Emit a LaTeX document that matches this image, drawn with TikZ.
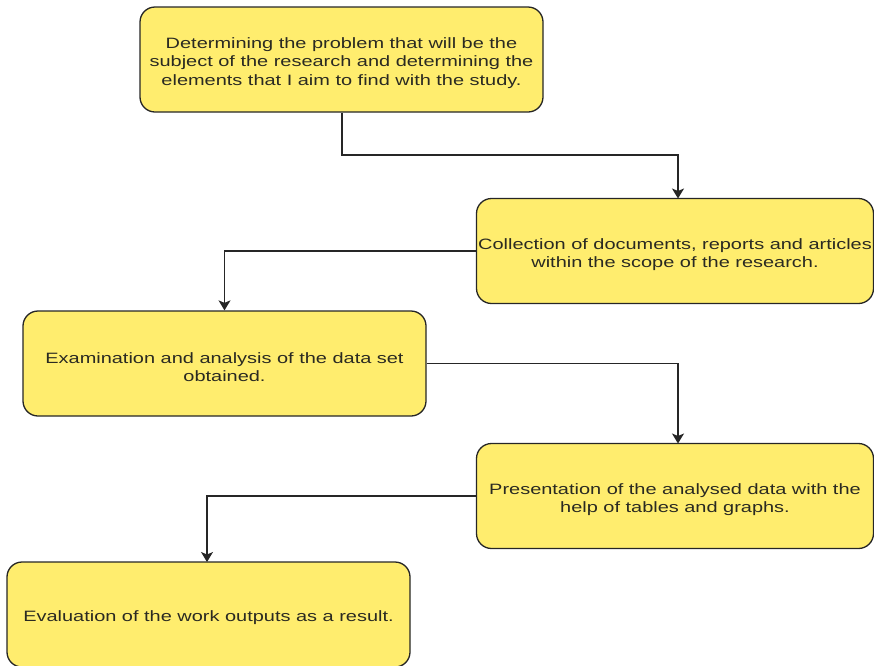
\documentclass[tikz,border=0pt]{standalone}
\usepackage{fontspec}
\setmainfont{Liberation Sans}[FakeStretch=1.33]
\usetikzlibrary{arrows.meta}
\definecolor{boxfill}{HTML}{FFED6E}
\definecolor{boxline}{HTML}{262626}
\definecolor{txt}{HTML}{2A2A22}
\newcommand\topfix{\rule{0pt}{18pt}}
\begin{document}
\begin{tikzpicture}[x=1pt,y=-1pt,
  stepbox/.style={draw=boxline,fill=boxfill,line width=1.3pt,rounded corners=15pt,
    minimum width=#1,minimum height=105pt,inner sep=0pt,align=center,text=txt,
    font=\fontsize{15pt}{18.6pt}\selectfont},
  stepbox/.default=403pt,
  conn/.style={draw=boxline,line width=1.2pt,-{Stealth[length=10pt,width=12pt,inset=2.5pt]}}]
\useasboundingbox (0,0) rectangle (874,665);
\node[stepbox] (b1) at (341.5,59.5) {\topfix Determining the problem that will be the\\subject of the research and determining the\\elements that I aim to find with the study.};
\node[stepbox=397pt] (b2) at (675,251) {\topfix Collection of documents, reports and articles\\within the scope of the research.};
\node[stepbox] (b3) at (224.5,363.5) {\topfix Examination and analysis of the data set\\obtained.};
\node[stepbox=397pt] (b4) at (675,496) {\topfix Presentation of the analysed data with the\\help of tables and graphs.};
\node[stepbox] (b5) at (208.5,614.5) {\topfix Evaluation of the work outputs as a result.};
\coordinate (m1) at (342,155);
\coordinate (t2) at (678,198.5);
\coordinate (t4) at (678,443.5);
\coordinate (t5) at (207,562);
\draw[conn] (b1.south -| m1) -- (m1) -| (t2);
\draw[conn] (b2.west) -| (b3.north);
\draw[conn] (b3.east) -| (t4);
\draw[conn] (b4.west) -| (t5);
\end{tikzpicture}
\end{document}
